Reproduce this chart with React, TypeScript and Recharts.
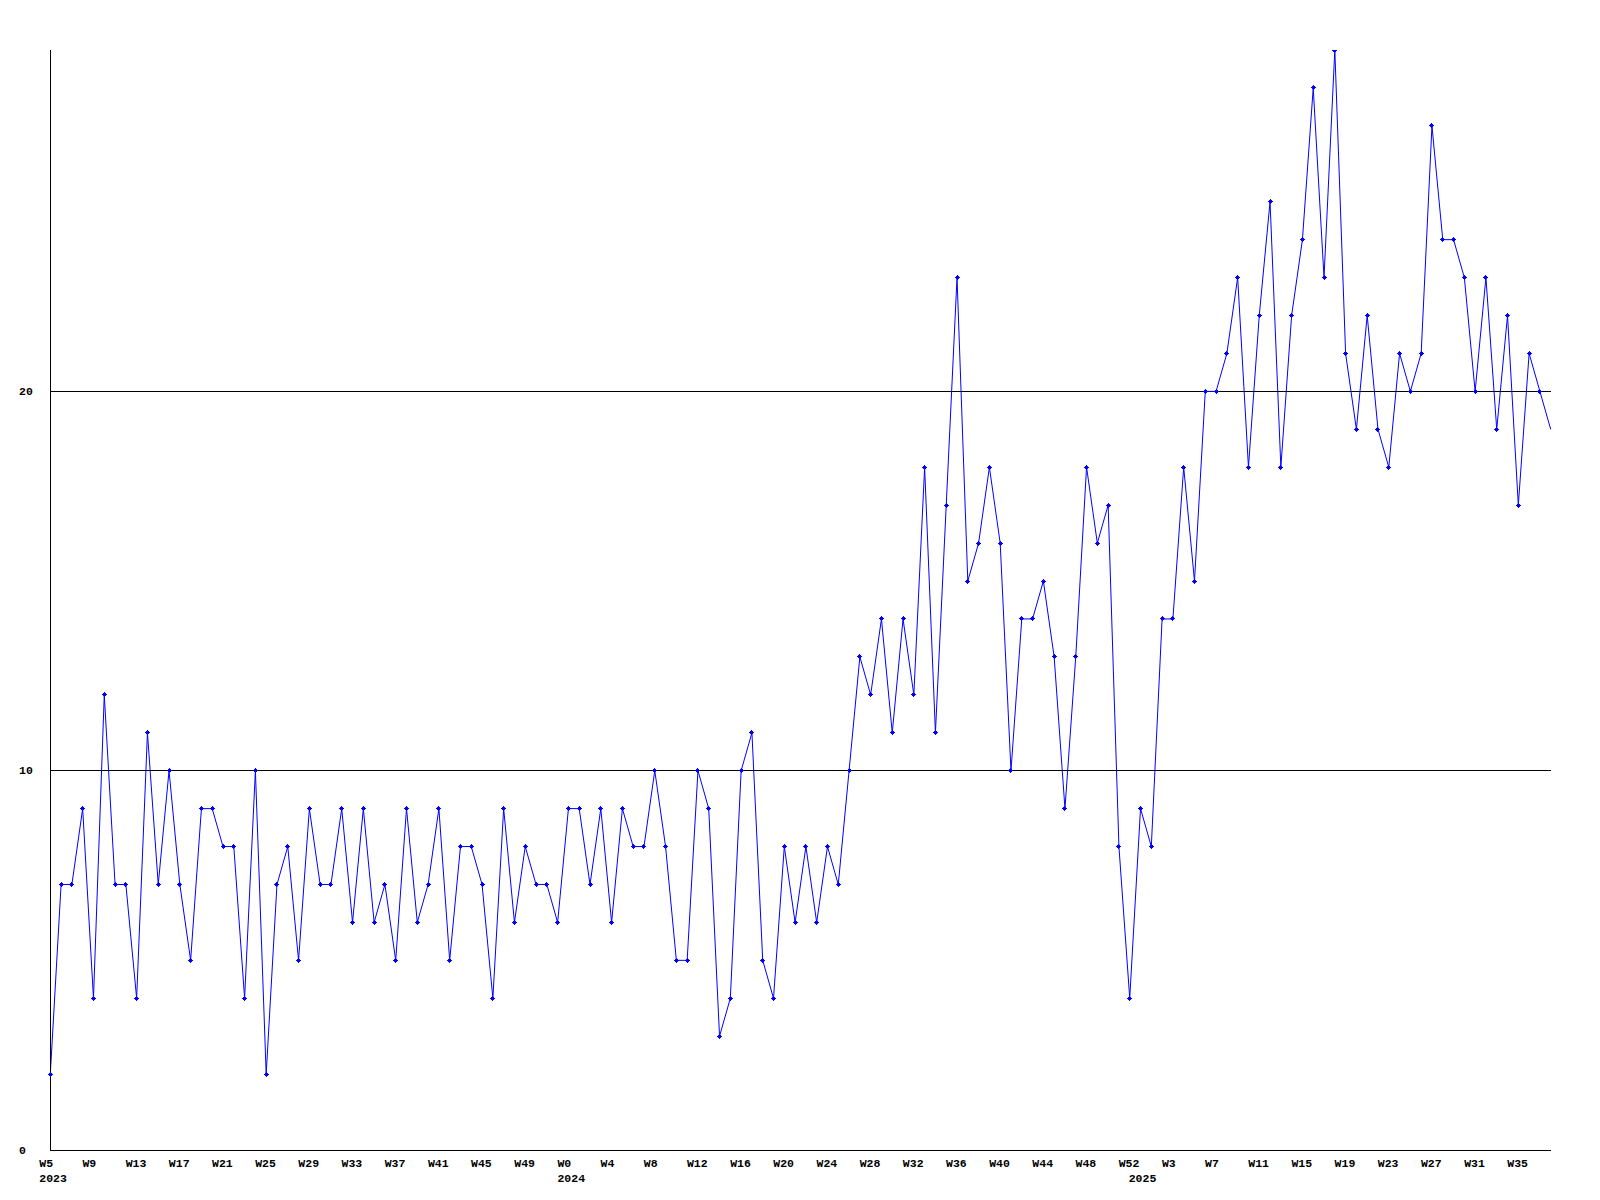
import React from "react";
import { LineChart, Line, XAxis, YAxis, ReferenceLine } from "recharts";

// Weekly counts
const values2023 = [
  2, 7, 7, 9, 4, 12, 7, 7, 4, 11, 7, 10, 7, 5, 9, 9, 8, 8, 4, 10, 2, 7, 8, 5,
  9, 7, 7, 9, 6, 9, 6, 7, 5, 9, 6, 7, 9, 5, 8, 8, 7, 4, 9, 6, 8, 7, 7, 6,
];
const values2024 = [
  9, 9, 7, 9, 6, 9, 8, 8, 10, 8, 5, 5, 10, 9, 3, 4, 10, 11, 5, 4, 8, 6, 8, 6,
  8, 7, 10, 13, 12, 14, 11, 14, 12, 18, 11, 17, 23, 15, 16, 18, 16, 10, 14, 14,
  15, 13, 9, 13, 18, 16, 17, 8, 4,
];
const values2025 = [
  9, 8, 14, 14, 18, 15, 20, 20, 21, 23, 18, 22, 25, 18, 22, 24, 28, 23, 29, 21,
  19, 22, 19, 18, 21, 20, 21, 27, 24, 24, 23, 20, 23, 19, 22, 17, 21, 20, 19,
];
const firstWeek2023 = 5;
const firstWeek2024 = 0;
const firstWeek2025 = 0;
const yearLabels = [
  { key: "2023-W5", text: "2023", dx: -11 },
  { key: "2024-W0", text: "2024", dx: -11 },
  { key: "2024-W52", text: "2025", dx: -1 },
];
const yTicks = [0, 10, 20];
const gridValues = [10, 20];

type Row = { key: string; week: string; value: number };

const buildYear = (year: number, start: number, vals: number[]): Row[] =>
  vals.map((v, i) => ({
    key: `${year}-W${start + i}`,
    week: `W${start + i}`,
    value: v,
  }));

const data: Row[] = [
  ...buildYear(2023, firstWeek2023, values2023),
  ...buildYear(2024, firstWeek2024, values2024),
  ...buildYear(2025, firstWeek2025, values2025),
];

const FONT = "'Liberation Mono', 'DejaVu Sans Mono', monospace";
const FONT_SIZE = 11.5;

const XTick = (props: any) => {
  const { x, payload } = props;
  const row = data.find((d) => d.key === payload.value);
  const year = yearLabels.find((y) => y.key === payload.value);
  return (
    <g>
      <text
        x={x - 11}
        y={1158.5}
        textAnchor="start"
        fontFamily={FONT}
        fontWeight="bold"
        fontSize={FONT_SIZE}
        fill="#000"
      >
        {row ? row.week : ""}
      </text>
      {year && (
        <text
          x={x + year.dx}
          y={1173.5}
          textAnchor="start"
          fontFamily={FONT}
          fontWeight="bold"
          fontSize={FONT_SIZE}
          fill="#000"
        >
          {year.text}
        </text>
      )}
    </g>
  );
};

const YTick = (props: any) => {
  const { y, payload } = props;
  return (
    <text
      x={11}
      y={y + 3.5}
      textAnchor="start"
      fontFamily={FONT}
      fontWeight="bold"
      fontSize={FONT_SIZE}
      fill="#000"
    >
      {payload.value}
    </text>
  );
};

const Marker = (props: any) => {
  const { cx, cy, index } = props;
  if (index === data.length - 1 || cx == null || cy == null) {
    return <g key={`m-${index}`} />;
  }
  return (
    <g key={`m-${index}`} shapeRendering="crispEdges" fill="#0000ff">
      <rect x={cx - 2.5} y={cy - 0.5} width={5} height={1} />
      <rect x={cx - 0.5} y={cy - 2.5} width={1} height={5} />
      <rect x={cx - 1.5} y={cy - 1.5} width={3} height={3} />
    </g>
  );
};

export default function App() {
  return (
    <div style={{ width: 1580, height: 1190, background: "#fff" }}>
      <LineChart
        width={1580}
        height={1190}
        data={data}
        margin={{ top: 42, right: 37.3, left: 0, bottom: 8 }}
      >
        <XAxis
          dataKey="key"
          type="category"
          interval={3}
          height={40}
          tickLine={false}
          axisLine={{ stroke: "#000", strokeWidth: 1, shapeRendering: "crispEdges" }}
          tick={<XTick />}
        />
        <YAxis
          type="number"
          domain={[0, 29]}
          ticks={yTicks}
          width={42.3}
          tickLine={false}
          axisLine={{ stroke: "#000", strokeWidth: 1, shapeRendering: "crispEdges" }}
          tick={<YTick />}
          allowDataOverflow
        />
        {gridValues.map((v) => (
          <ReferenceLine
            key={v}
            y={v}
            stroke="#000"
            strokeWidth={1}
            shapeRendering="crispEdges"
          />
        ))}
        <Line
          type="linear"
          dataKey="value"
          stroke="#0000ff"
          strokeWidth={1}
          dot={Marker}
          activeDot={false}
          isAnimationActive={false}
        />
      </LineChart>
    </div>
  );
}
